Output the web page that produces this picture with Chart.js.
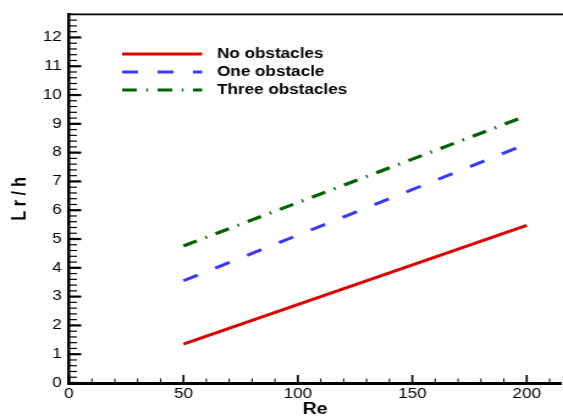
<!DOCTYPE html>
<html>
<head>
<meta charset="utf-8">
<script src="https://cdn.jsdelivr.net/npm/chart.js@4.4.0/dist/chart.umd.min.js"></script>
<style>
  html, body { margin: 0; padding: 0; background: #fff; overflow: hidden; }
  /* the plot is laid out narrow and widened here, which gives the broad lettering */
  #wrap { width: 461px; height: 419px; transform: scaleX(1.2213); transform-origin: 0 0; }
</style>
</head>
<body>
<div id="wrap"><canvas id="lr-chart"></canvas></div>
<script>
const FONT = '"Liberation Sans", Arial, Helvetica, sans-serif';

// Reattachment length vs Reynolds number
const reValues = [50, 200];
const lrNoObstacles = [1.35, 5.47];
const lrOneObstacle = [3.55, 8.3];
const lrThreeObstacles = [4.76, 9.28];
const seriesNames = ['No obstacles', 'One obstacle', 'Three obstacles'];
const reTicks = [0, 50, 100, 150, 200];
const lrTicks = [0, 1, 2, 3, 4, 5, 6, 7, 8, 9, 10, 11, 12];

function toPoints(ys) {
    return reValues.map((re, i) => ({ x: re, y: ys[i] }));
}

/**
 * Inward tick marks, the top frame line and the legend inside the plot
 */
const axisMarks = {
    id: 'axisMarks',
    afterDatasetsDraw(chart) {
        const { ctx, chartArea, scales: { x, y } } = chart;
        ctx.save();
        ctx.strokeStyle = '#000';

        // x ticks every 10, long ones every 50
        for (let v = 0; v <= x.max; v += 10) {
            const px = x.getPixelForValue(v);
            const major = v % 50 === 0;
            ctx.lineWidth = major ? 1.7 : 1;
            ctx.beginPath();
            ctx.moveTo(px, chartArea.bottom);
            ctx.lineTo(px, chartArea.bottom - (major ? 8 : 4.5));
            ctx.stroke();
        }

        // y ticks every 0.2, long ones on whole numbers
        for (let i = 0; i * 0.2 <= y.max + 1e-9; i++) {
            const py = y.getPixelForValue(i * 0.2);
            const major = i % 5 === 0;
            ctx.lineWidth = major ? 2.2 : 1.2;
            ctx.beginPath();
            ctx.moveTo(chartArea.left, py);
            ctx.lineTo(chartArea.left + (major ? 10 : 6.5), py);
            ctx.stroke();
        }

        // top frame
        ctx.lineWidth = 1.8;
        ctx.beginPath();
        ctx.moveTo(chartArea.left, chartArea.top);
        ctx.lineTo(chartArea.right + 2, chartArea.top);
        ctx.stroke();

        // legend
        const rows = [54, 72, 90];
        ctx.font = `bold 14px ${FONT}`;
        ctx.textBaseline = 'middle';
        ctx.fillStyle = '#000';
        chart.data.datasets.forEach((ds, i) => {
            ctx.strokeStyle = ds.borderColor;
            ctx.lineWidth = ds.borderWidth;
            ctx.setLineDash(ds.borderDash || []);
            ctx.beginPath();
            ctx.moveTo(100, rows[i]);
            ctx.lineTo(165.5, rows[i]);
            ctx.stroke();
            ctx.setLineDash([]);
            ctx.fillText(ds.label, 177.7, rows[i]);
        });

        ctx.restore();
    }
};

const ctx = document.getElementById('lr-chart');
const lrChart = new Chart(ctx, {
    type: 'line',
    data: {
        datasets: [
            {
                label: seriesNames[0],
                data: toPoints(lrNoObstacles),
                borderColor: '#dd0000',
                borderWidth: 3
            },
            {
                label: seriesNames[1],
                data: toPoints(lrOneObstacle),
                borderColor: '#3737ff',
                borderWidth: 3,
                borderDash: [13, 16]
            },
            {
                label: seriesNames[2],
                data: toPoints(lrThreeObstacles),
                borderColor: '#006200',
                borderWidth: 3.2,
                borderDash: [12, 7.8, 1.4, 7.8]
            }
        ]
    },
    options: {
        responsive: true,
        maintainAspectRatio: false,
        animation: false,
        elements: {
            point: { radius: 0 },
            line: { tension: 0, fill: false, borderCapStyle: 'butt' }
        },
        layout: { padding: { top: 12, right: 0, bottom: 0, left: 0 } },
        plugins: {
            legend: { display: false },
            tooltip: { enabled: false }
        },
        scales: {
            x: {
                type: 'linear',
                min: 0,
                max: 215,
                afterBuildTicks: scale => { scale.ticks = reTicks.map(v => ({ value: v })); },
                grid: { display: false, drawTicks: false },
                border: { display: true, color: '#000', width: 3 },
                ticks: {
                    padding: 3,
                    autoSkip: false,
                    maxRotation: 0,
                    color: '#000',
                    font: { family: FONT, size: 14 }
                },
                title: {
                    display: true,
                    text: 'Re',
                    color: '#000',
                    font: { family: FONT, size: 16, weight: 'bold', lineHeight: 1 },
                    padding: { top: 0, bottom: 1 }
                },
                afterFit: scale => { scale.height = 36; }
            },
            y: {
                type: 'linear',
                min: 0,
                max: 12.8,
                afterBuildTicks: scale => { scale.ticks = lrTicks.map(v => ({ value: v })); },
                grid: { display: false, drawTicks: false },
                border: { display: true, color: '#000', width: 2.5 },
                ticks: {
                    padding: 6,
                    autoSkip: false,
                    color: '#000',
                    font: { family: FONT, size: 14 }
                },
                title: {
                    display: true,
                    text: 'L r / h',
                    color: '#000',
                    font: { family: FONT, size: 16, weight: 'bold', lineHeight: 1 },
                    padding: { top: 9, bottom: 0 }
                },
                afterFit: scale => { scale.width = 56.5; }
            }
        }
    },
    plugins: [axisMarks]
});
</script>
</body>
</html>
